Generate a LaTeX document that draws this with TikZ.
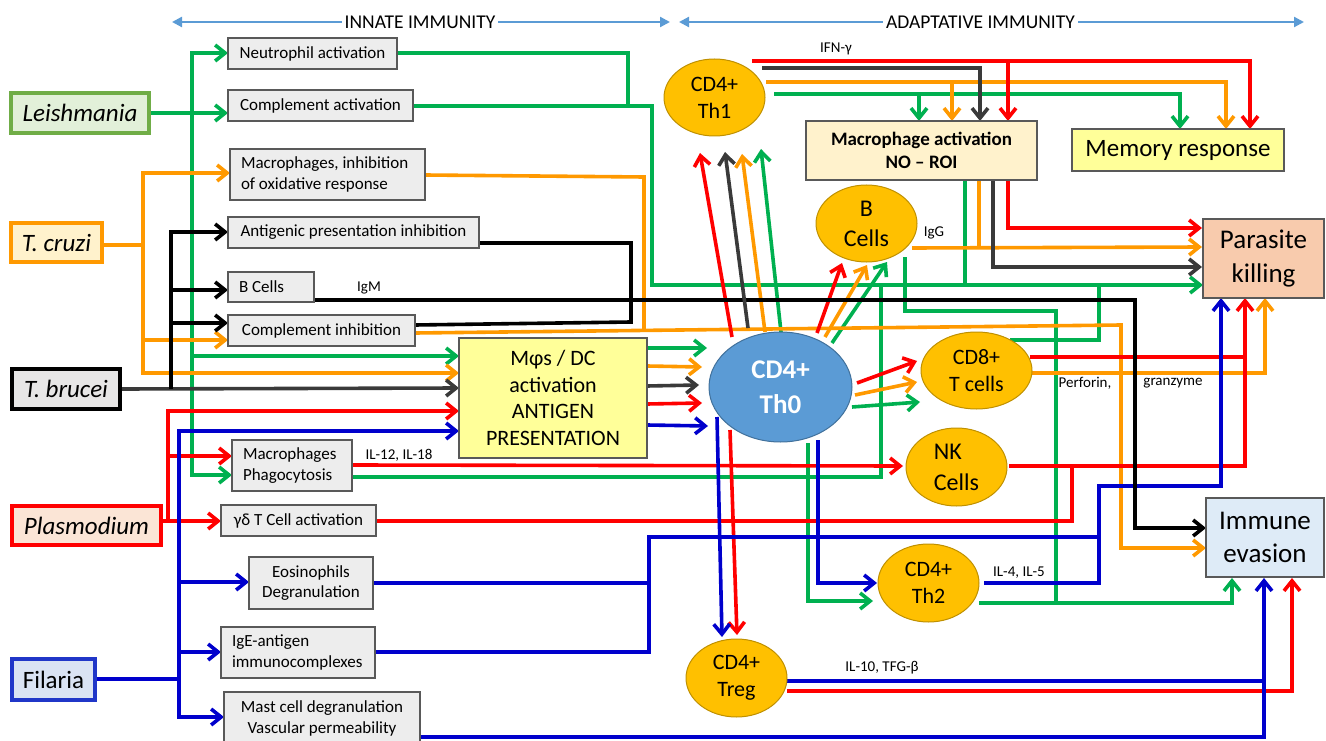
\documentclass[tikz,border=0pt]{standalone}
\usepackage{fontspec}
\setmainfont{Carlito}
\usetikzlibrary{arrows.meta,shapes.geometric}
\definecolor{cg}{HTML}{00B050}
\definecolor{co}{HTML}{FF9900}
\definecolor{cr}{HTML}{FF0000}
\definecolor{cb}{HTML}{0000CC}
\definecolor{ck}{HTML}{3A3A3A}
\definecolor{topblue}{HTML}{5B9BD5}
\definecolor{boxgrey}{HTML}{EDEDED}
\definecolor{boxline}{HTML}{595959}
\definecolor{ellfill}{HTML}{FFC000}
\definecolor{ellline}{HTML}{BF9000}
\definecolor{thfill}{HTML}{5B9BD5}
\definecolor{thline}{HTML}{41719C}
\definecolor{yel}{HTML}{FFFF99}
\definecolor{macfill}{HTML}{FFF2CC}
\definecolor{pkfill}{HTML}{F8CBAD}
\definecolor{imfill}{HTML}{DEEBF7}
\definecolor{leishline}{HTML}{70AD47}
\definecolor{leishfill}{HTML}{E2F0D9}
\definecolor{cruzfill}{HTML}{FFF2CC}
\definecolor{brucfill}{HTML}{E7E6E6}
\definecolor{plasfill}{HTML}{FBE5D6}
\definecolor{filline}{HTML}{2036C8}
\definecolor{filfill}{HTML}{DAE3F3}
\begin{document}
\begin{tikzpicture}[x=1pt,y=-1pt,
  ln/.style={line width=3.6pt},
  arr/.style={-{Straight Barb[length=10pt,width=16pt]}},
  gl/.style={ln,draw=cg},
  ol/.style={ln,draw=co},
  rl/.style={ln,draw=cr},
  bl/.style={ln,draw=cb},
  kl/.style={ln,draw=ck},
  xl/.style={ln,draw=black},
  toplab/.style={inner sep=3pt,font=\fontsize{19.5}{22}\selectfont},
  toparr/.style={draw=topblue,line width=2.2pt,-{Triangle[length=10pt,width=10pt]}},
  para/.style={line width=4pt,inner sep=0pt,font=\fontsize{25}{30}\selectfont},
  gbox/.style={draw=boxline,fill=boxgrey,line width=1.2pt,inner sep=0pt,align=center,font=\fontsize{17}{20.5}\selectfont},
  gboxl/.style={gbox,align=flush left,inner xsep=11pt},
  cbox/.style={draw=boxline,line width=1.2pt,inner sep=0pt,align=center},
  cell/.style={ellipse,draw=ellline,fill=ellfill,line width=1pt,inner sep=0pt,align=center,font=\fontsize{22}{27}\selectfont},
  lab/.style={inner sep=0pt,font=\fontsize{15}{18}\selectfont}
]
\useasboundingbox (0,0) rectangle (1326,741);

% ---------------- green (Leishmania) ----------------
\draw[gl,arr] (151,113) -- (228,113);
\draw[gl,arr] (192,113) |- (228,53);
\draw[gl,arr] (192,113) |- (232,475);
\draw[gl,arr] (192,356) -- (459,356);
\draw[gl] (397,53) -| (628,106);
\draw[gl,arr] (413,106) -| (652,285) -- (1203,285);
\draw[gl] (352,477) -| (881,285);
\draw[gl] (965,180) -- (965,285);
\draw[gl] (1010,340) -| (1099,285);
\draw[gl] (905,257) |- (1056,311) -- (1056,603);
\draw[gl,arr] (979,603) -| (1232,578);
\draw[gl,arr] (647,348) -- (707,348);
\draw[gl,arr] (781,332) -- (761,149);
\draw[gl,arr] (832,343) -- (887,262);
\draw[gl,arr] (852,407) -- (920,402);
\draw[gl,arr] (774,94) -| (1180,129);
\draw[gl,arr] (919,94) -- (919,121);
\draw[gl,arr] (808,443) |- (873,601);

% ---------------- orange (T. cruzi) ----------------
\draw[ol] (104,245) -- (143,245);
\draw[ol,arr] (143,245) |- (230,173);
\draw[ol,arr] (143,245) |- (228,340);
\draw[ol,arr] (143,245) |- (459,373);
\draw[ol] (425,175) -- (644,177) -- (644,330);
\draw[ol,arr] (415,333) -- (1121,325) -- (1121,548) -- (1206,548);
\draw[ol,arr] (647,366) -- (702,367);
\draw[ol,arr] (765,332) -- (742,154);
\draw[ol,arr] (825,337) -- (867,265);
\draw[ol,arr] (855,395) -- (917,382);
\draw[ol,arr] (766,82) -| (1226,129);
\draw[ol,arr] (952,82) -- (952,121);
\draw[ol,arr] (912,248) -- (1202,247);
\draw[ol] (979,180) -- (979,247);
\draw[ol,arr] (1032,373) -| (1265,298);

% ---------------- red (Plasmodium) ----------------
\draw[rl,arr] (163,521) -- (221,521);
\draw[rl,arr] (168,521) |- (459,411);
\draw[rl,arr] (168,521) |- (232,456);
\draw[rl,arr] (352,465) -- (903,466);
\draw[rl] (376,521) -| (1072,466);
\draw[rl,arr] (647,404) -- (702,403);
\draw[rl,arr] (732,337) -- (700,153);
\draw[rl,arr] (817,333) -- (842,263);
\draw[rl,arr] (857,383) -- (917,361);
\draw[rl,arr] (752,61) -| (1250,129);
\draw[rl,arr] (1008,61) -- (1008,121);
\draw[rl,arr] (1008,180) |- (1202,228);
\draw[rl,arr] (730,430) -- (737,635);
\draw[rl,arr] (787,691) -| (1292,578);
\draw[rl] (1030,357) -- (1245,357);
\draw[rl,arr] (1009,466) -| (1245,298);

% ---------------- blue (Filaria) ----------------
\draw[bl] (97,679) -- (179,679);
\draw[bl,arr] (179,679) |- (459,431);
\draw[bl,arr] (179,679) |- (249,582);
\draw[bl,arr] (179,679) |- (221,652);
\draw[bl,arr] (179,679) |- (224,717);
\draw[bl,arr] (647,425) -- (708,426);
\draw[bl] (373,583) -| (649,537) -- (1099,537);
\draw[bl] (375,652) -| (649,537);
\draw[bl,arr] (984,583) -| (1099,486) -| (1221,298);
\draw[bl,arr] (717,417) -- (722,637);
\draw[bl,arr] (818,440) |- (877,583);
\draw[bl] (787,681) -- (1264,681);
\draw[bl,arr] (420,737) -| (1264,578);

% ---------------- black (T. brucei) ----------------
\draw[kl,arr] (122,389) -- (459,388);
\draw[xl,arr] (171,389) |- (228,232);
\draw[xl,arr] (171,389) |- (228,290);
\draw[xl,arr] (171,389) |- (228,323);
\draw[xl] (479,243) -| (631,322) -- (415,325);
\draw[xl,arr] (314,300) -| (1135,528) -- (1206,528);
\draw[kl,arr] (647,386) -- (699,385);
\draw[kl,arr] (748,328) -- (725,152);
\draw[kl,arr] (762,68) -| (980,121);
\draw[kl,arr] (993,180) |- (1202,267);

% ---------------- parasites ----------------
\node[para,draw=leishline,fill=leishfill,minimum width=138pt,minimum height=40pt] (leish) at (80,113) {\itshape Leishmania};
\node[para,draw=co,fill=cruzfill,minimum width=91pt,minimum height=39pt] (tcruzi) at (56.5,242.5) {\itshape T. cruzi};
\node[para,draw=black,fill=brucfill,minimum width=108pt,minimum height=40pt] (tbrucei) at (66,389) {\itshape T. brucei};
\node[para,draw=cr,fill=plasfill,minimum width=149pt,minimum height=39pt] (plasm) at (86.5,525.5) {\itshape Plasmodium};
\node[para,draw=filline,fill=filfill,minimum width=83pt,minimum height=41pt] (filaria) at (53.5,679.5) {Filaria};

% ---------------- innate boxes ----------------
\node[gbox,minimum width=169pt,minimum height=31pt] (neut) at (312.5,53.5) {Neutrophil activation};
\node[gbox,minimum width=185pt,minimum height=31pt] (compact) at (320.5,105.5) {Complement activation};
\node[gboxl,text width=173pt,minimum height=51pt] (macinh) at (327.5,174.5) {Macrophages, inhibition\\of oxidative response};
\node[gbox,minimum width=251pt,minimum height=31pt] (antig) at (353.5,232.5) {Antigenic presentation inhibition};
\node[gboxl,text width=64pt,minimum height=30pt] (bcb) at (271,287) {B Cells};
\node[gbox,minimum width=187pt,minimum height=31pt] (compinh) at (321.5,330.5) {Complement inhibition};
\node[gboxl,text width=98pt,minimum height=51pt] (macphag) at (292,465.5) {Macrophages\\Phagocytosis};
\node[gbox,minimum width=155pt,minimum height=31pt] (gdt) at (298.5,520.5) {γδ T Cell activation};
\node[gbox,minimum width=124pt,minimum height=52pt] (eos) at (311,583) {Eosinophils\\Degranulation};
\node[gboxl,text width=132pt,minimum height=51pt] (ige) at (298,652.5) {IgE-antigen\\immunocomplexes};
\node[gbox,minimum width=196pt,minimum height=53pt] (mast) at (322,718.5) {Mast cell degranulation\\Vascular permeability};

% ---------------- central / adaptive ----------------
\node[cbox,fill=yel,minimum width=188pt,minimum height=120pt,font=\fontsize{22}{26.5}\selectfont] (mphi) at (553,398) {Mφs / DC\\activation\\ANTIGEN\\PRESENTATION};
\node[cbox,fill=macfill,minimum width=231pt,minimum height=59pt,font=\bfseries\fontsize{19}{23}\selectfont] (macact) at (921.5,150.5) {Macrophage activation\\NO – ROI};
\node[cbox,fill=yel,minimum width=212pt,minimum height=42pt,font=\fontsize{25}{30}\selectfont] (memory) at (1178,150) {Memory response};
\node[cbox,fill=pkfill,minimum width=121pt,minimum height=79pt,font=\fontsize{27}{34}\selectfont] (pkill) at (1263.5,258.5) {Parasite\\killing};
\node[cbox,fill=imfill,minimum width=118pt,minimum height=79pt,font=\fontsize{27}{33}\selectfont] (immev) at (1265,537.5) {Immune\\evasion};

\node[cell,minimum width=101pt,minimum height=77pt] (th1) at (714.5,97.5) {CD4+\\Th1};
\node[cell,font=\fontsize{24}{30}\selectfont,minimum width=101pt,minimum height=77pt] (bcell) at (866.5,223.5) {B\\Cells};
\node[ellipse,draw=thline,fill=thfill,line width=1pt,minimum width=143pt,minimum height=110pt,inner sep=0pt,align=center,text=white,font=\bfseries\fontsize{27}{35}\selectfont] (th0) at (780.5,387) {CD4+\\Th0};
\node[cell,minimum width=111pt,minimum height=77pt] (cd8) at (976.5,370.5) {CD8+\\T cells};
\node[cell,align=flush left,font=\fontsize{24}{31}\selectfont,minimum width=101pt,minimum height=78pt] (nk) at (956.5,467) {NK\\Cells};
\node[cell,minimum width=101pt,minimum height=78pt] (th2) at (928.5,583) {CD4+\\Th2};
\node[cell,minimum width=101pt,minimum height=78pt] (treg) at (736.5,678) {CD4+\\Treg};

% ---------------- labels ----------------
\node[lab] (igm) at (369,288) {IgM};
\node[lab] (ifn) at (836,49) {IFN-γ};
\node[lab] (igg) at (934,233) {IgG};
\node[lab] (il12) at (399,455) {IL-12, IL-18};
\node[lab] (perf) at (1085,383) {Perforin,};
\node[lab] (granz) at (1173,383) {granzyme};
\node[lab] (il4) at (1019,573) {IL-4, IL-5};
\node[lab] (il10) at (882,668) {IL-10, TFG-β};

% ---------------- top ----------------
\node[toplab] (innate) at (420,22) {INNATE IMMUNITY};
\node[toplab] (adapt) at (980.5,22) {ADAPTATIVE IMMUNITY};
\draw[toparr] (innate.west) -- (172,22);
\draw[toparr] (innate.east) -- (670,22);
\draw[toparr] (adapt.west) -- (679,22);
\draw[toparr] (adapt.east) -- (1304,22);
\end{tikzpicture}
\end{document}
